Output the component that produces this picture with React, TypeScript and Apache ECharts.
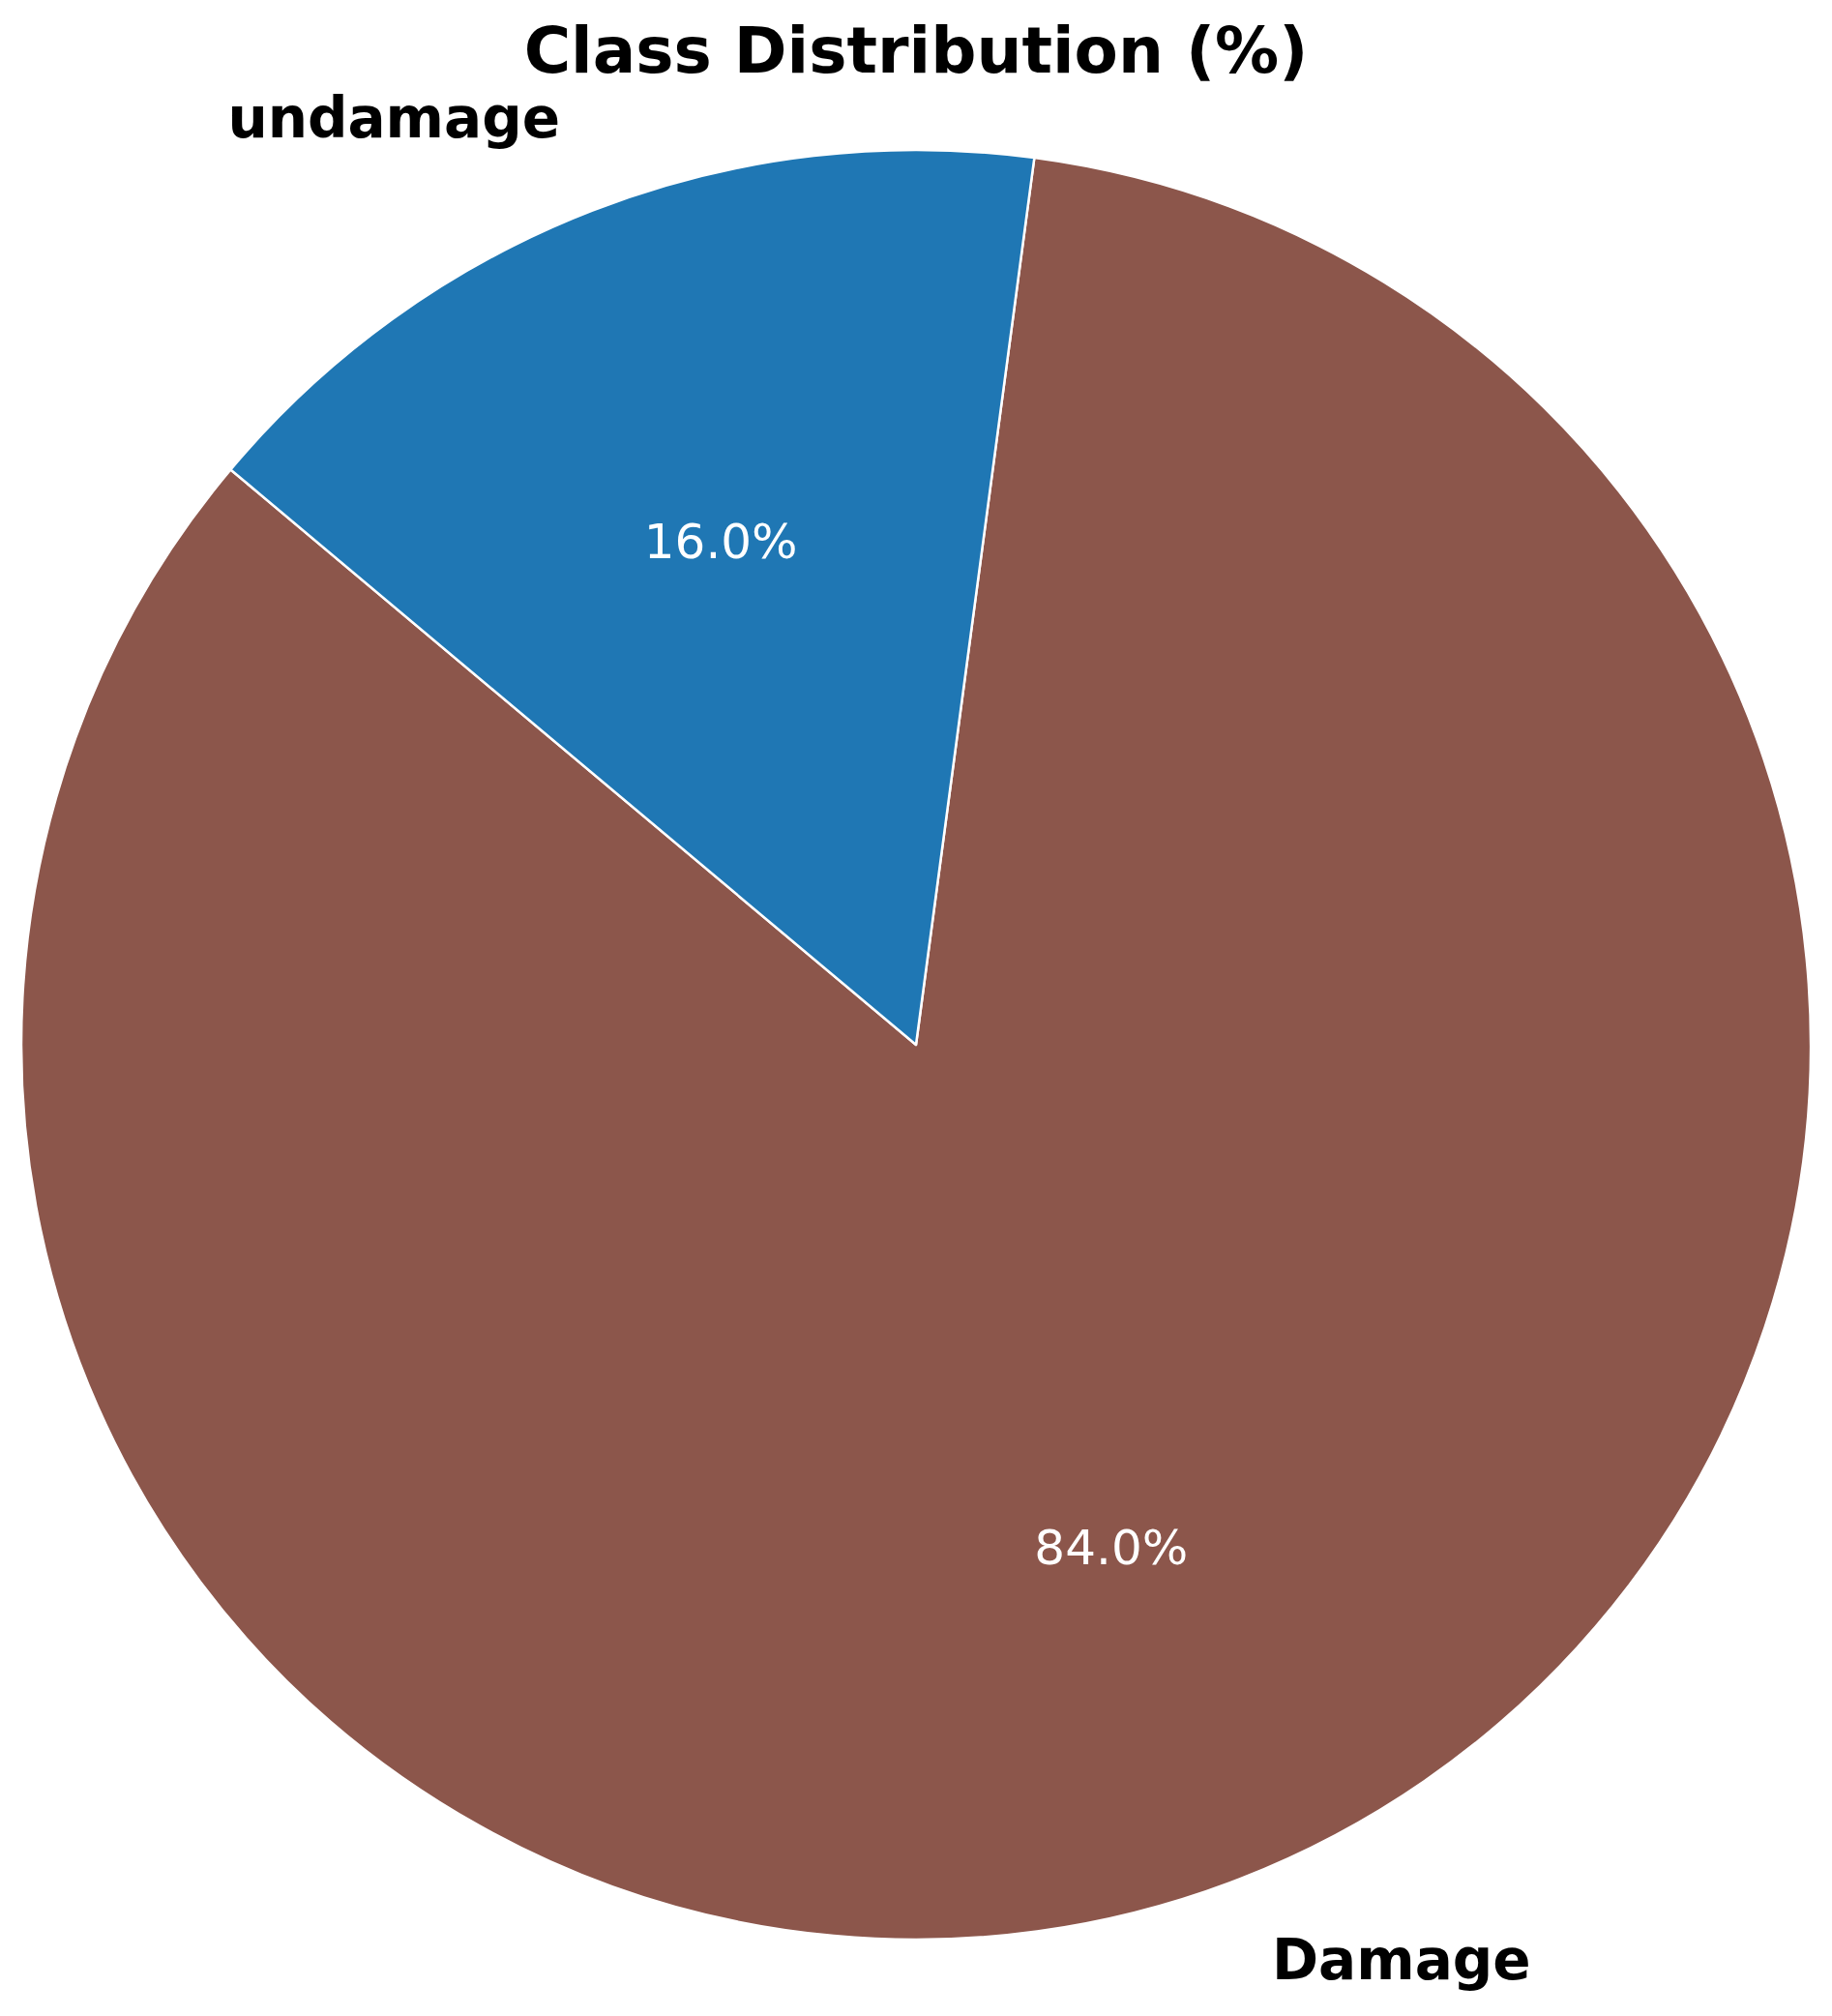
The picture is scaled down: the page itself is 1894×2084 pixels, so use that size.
import React, { useEffect, useRef } from "react";
import * as echarts from "echarts";

const categories = ["Damage", "undamage"];
const percentValues = [84.0, 16.0];
const sliceColors = ["#8c564b", "#1f77b4"];
const chartTitle = "Class Distribution (%)";

const W = 1894;
const H = 2084;
const CX = 947;
const CY = 1080;
const R = 925;

export default function App() {
  const ref = useRef<HTMLDivElement>(null);

  useEffect(() => {
    if (!ref.current) return;
    const chart = echarts.init(ref.current, null, { renderer: "svg", width: W, height: H });
    const data = categories.map((name, i) => ({
      name,
      value: percentValues[i],
      itemStyle: { color: sliceColors[i] },
    }));
    chart.setOption({
      animation: false,
      backgroundColor: "#ffffff",
      title: {
        text: chartTitle,
        left: "center",
        top: 14,
        textStyle: {
          fontFamily: "DejaVu Sans",
          fontWeight: "bold",
          fontSize: 66,
          lineHeight: 66,
          color: "#000000",
        },
      },
      series: [
        {
          type: "pie",
          center: [CX, CY],
          radius: [0, R],
          startAngle: 140,
          clockwise: false,
          avoidLabelOverlap: false,
          silent: true,
          itemStyle: { borderColor: "#ffffff", borderWidth: 2.5 },
          label: {
            show: true,
            position: "outside",
            formatter: "{b}",
            fontFamily: "DejaVu Sans",
            fontWeight: "bold",
            fontSize: 58,
            lineHeight: 58,
            color: "#000000",
            distanceToLabelLine: 0,
          },
          labelLine: { show: false, length: R * 0.1, length2: 0 },
          labelLayout: (p: any) => (p.dataIndex === 1 ? { dy: -9 } : { dy: -3 }),
          data,
        },
        {
          type: "pie",
          center: [CX, CY],
          radius: [R * 0.5, R * 0.7],
          startAngle: 140,
          clockwise: false,
          avoidLabelOverlap: false,
          silent: true,
          itemStyle: { color: "rgba(0,0,0,0)", borderWidth: 0 },
          label: {
            show: true,
            position: "inside",
            formatter: (p: any) => Number(p.value).toFixed(1) + "%",
            fontFamily: "DejaVu Sans",
            fontSize: 50,
            color: "#ffffff",
          },
          labelLine: { show: false },
          data: categories.map((name, i) => ({ name, value: percentValues[i] })),
        },
      ],
    });
    return () => chart.dispose();
  }, []);

  return (
    <div
      ref={ref}
      style={{ position: "absolute", left: 0, top: 0, width: W, height: H }}
    />
  );
}
